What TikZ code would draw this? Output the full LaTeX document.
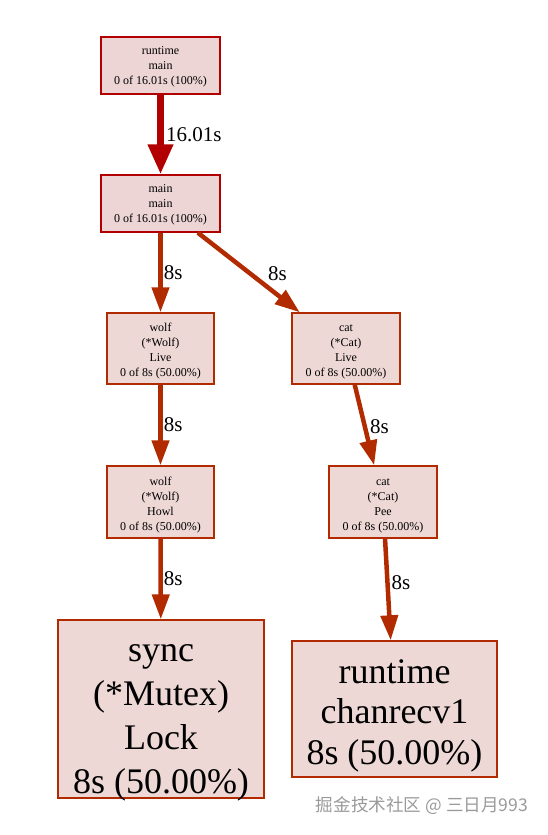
\documentclass[tikz,border=0pt]{standalone}
\usepackage{fontspec}
\setmainfont{Liberation Serif}
\newfontfamily\cjk{Noto Sans CJK SC}
\usetikzlibrary{arrows.meta}
\definecolor{hotred}{HTML}{B20000}
\definecolor{warmred}{HTML}{B22B00}
\definecolor{hotfill}{HTML}{EDD5D5}
\definecolor{warmfill}{HTML}{EDD8D5}
\definecolor{markgray}{HTML}{9A9A9A}

\begin{document}
\begin{tikzpicture}[x=1pt,y=-1pt,
  fn/.style={draw=warmred, fill=warmfill, line width=1.4pt, inner sep=0pt, align=center, text depth=0pt, font=\fontsize{12}{15}\selectfont},
  fnthree/.style={fn, minimum width=119pt, minimum height=57pt, text height=38pt},
  fnfour/.style={fn, minimum width=107pt, minimum height=71pt, text height=56pt},
  hotfn/.style={fnthree, draw=hotred, fill=hotfill},
  leaf/.style={fn, font=\fontsize{36}{43.7}\selectfont},
  hot/.style={draw=hotred, line width=7pt, -{Triangle[length=30pt,width=24pt]}},
  warm/.style={draw=warmred, line width=4.5pt, -{Triangle[length=25pt,width=17pt]}},
  lbl/.style={inner sep=0pt, font=\fontsize{21}{25}\selectfont}]
\useasboundingbox (0,0) rectangle (547,835);
\node[hotfn] (rtmain) at (160.5,65.5) {runtime\\main\\0 of 16.01s (100\%)};
\node[hotfn] (mainmain) at (160.5,203.5) {main\\main\\0 of 16.01s (100\%)};
\node[fnfour] (wolflive) at (160.5,348.5) {wolf\\(*Wolf)\\Live\\0 of 8s (50.00\%)};
\node[fnfour, minimum width=108pt] (catlive) at (346,348.5) {cat\\(*Cat)\\Live\\0 of 8s (50.00\%)};
\node[fnfour, minimum height=72pt] (wolfhowl) at (160.5,502) {wolf\\(*Wolf)\\Howl\\0 of 8s (50.00\%)};
\node[fnfour, minimum width=108pt, minimum height=72pt] (catpee) at (383,502) {cat\\(*Cat)\\Pee\\0 of 8s (50.00\%)};
\node[leaf, minimum width=206pt, minimum height=178pt, text height=168pt] (mutexlock) at (161,709) {sync\\(*Mutex)\\Lock\\8s (50.00\%)};
\node[leaf, minimum width=205pt, minimum height=136pt, text height=110pt, font=\fontsize{36}{40.5}\selectfont] (chanrecv) at (394.5,709) {runtime\\chanrecv1\\8s (50.00\%)};
\draw[hot] (rtmain) -- node[lbl, right=2pt] {16.01s} (mainmain);
\draw[warm] (mainmain) -- node[lbl, right=1pt] {8s} (wolflive);
\draw[warm] (mainmain) -- node[lbl, right=15pt, pos=0.52] {8s} (catlive);
\draw[warm] (wolflive) -- node[lbl, right=1pt] {8s} (wolfhowl);
\draw[warm] (catlive) -- node[lbl, right=3pt, pos=0.52] {8s} (catpee);
\draw[warm] (wolfhowl) -- node[lbl, right=1pt] {8s} (mutexlock);
\draw[warm] (catpee) -- node[lbl, right=2pt, pos=0.43] {8s} (chanrecv);
\node[text=markgray, font=\cjk\fontsize{17.6}{20}\selectfont] (mark) at (422,806) {掘金技术社区 @ 三日月993};
\end{tikzpicture}
\end{document}
